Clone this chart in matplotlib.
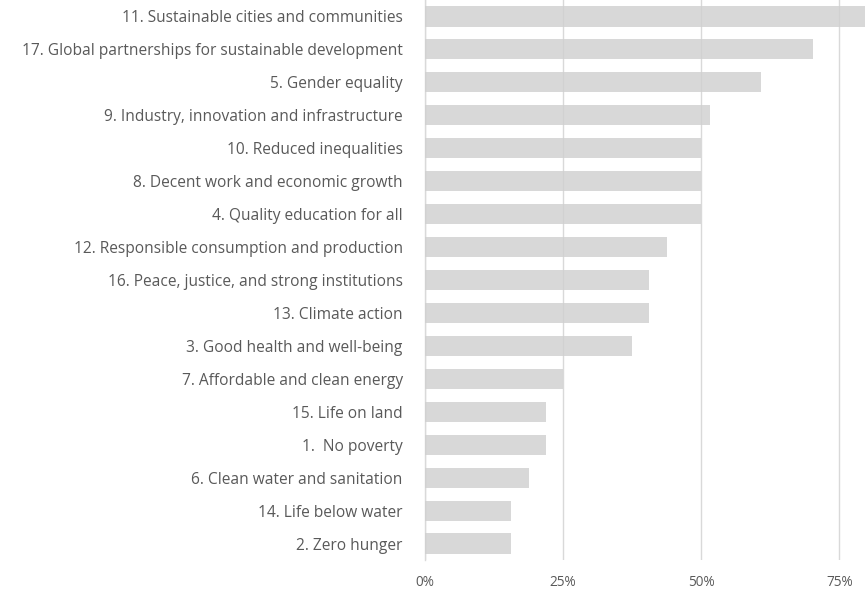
import matplotlib
matplotlib.use("Agg")
import matplotlib.pyplot as plt
from matplotlib.ticker import FuncFormatter

goals = [
    "11. Sustainable cities and communities",
    "17. Global partnerships for sustainable development",
    "5. Gender equality",
    "9. Industry, innovation and infrastructure",
    "10. Reduced inequalities",
    "8. Decent work and economic growth",
    "4. Quality education for all",
    "12. Responsible consumption and production",
    "16. Peace, justice, and strong institutions",
    "13. Climate action",
    "3. Good health and well-being",
    "7. Affordable and clean energy",
    "15. Life on land",
    "1.  No poverty",
    "6. Clean water and sanitation",
    "14. Life below water",
    "2. Zero hunger",
]
share_pct = [79.7, 70.3, 60.9, 51.6, 50.0, 50.0, 50.0, 43.8, 40.6, 40.6,
             37.5, 25.0, 21.9, 21.9, 18.8, 15.6, 15.6]
x_ticks = [0, 25, 50, 75]

plt.rcParams["font.family"] = ["Open Sans", "DejaVu Sans"]
text_col = "#595959"
grid_col = "#d9d9d9"

fig = plt.figure(figsize=(8.68, 5.90), dpi=100)
ax = fig.add_axes([425 / 868, 30 / 590, 442 / 868, 560 / 590])

ypos = list(range(len(goals)))[::-1]
ax.barh(ypos, share_pct, height=0.61, color="#cfcfcf", alpha=0.8,
        linewidth=0, zorder=3)

ax.set_xlim(0, 80)
ax.set_ylim(-0.5, len(goals) - 0.5)
ax.set_xticks(x_ticks)
ax.xaxis.set_major_formatter(FuncFormatter(lambda v, _: f"{v:.0f}%"))
ax.set_yticks(ypos)
ax.set_yticklabels(goals)

ax.grid(axis="x", color=grid_col, linewidth=1.0, zorder=1)
ax.set_axisbelow(True)
for side in ["top", "right", "bottom"]:
    ax.spines[side].set_visible(False)
ax.spines["left"].set_color(grid_col)
ax.spines["left"].set_linewidth(1.0)

ax.tick_params(axis="y", length=0, pad=16, labelsize=11.2, labelcolor=text_col)
ax.tick_params(axis="x", length=0, pad=11, labelsize=9.8, labelcolor=text_col)

fig.savefig("out.png", dpi=100)
